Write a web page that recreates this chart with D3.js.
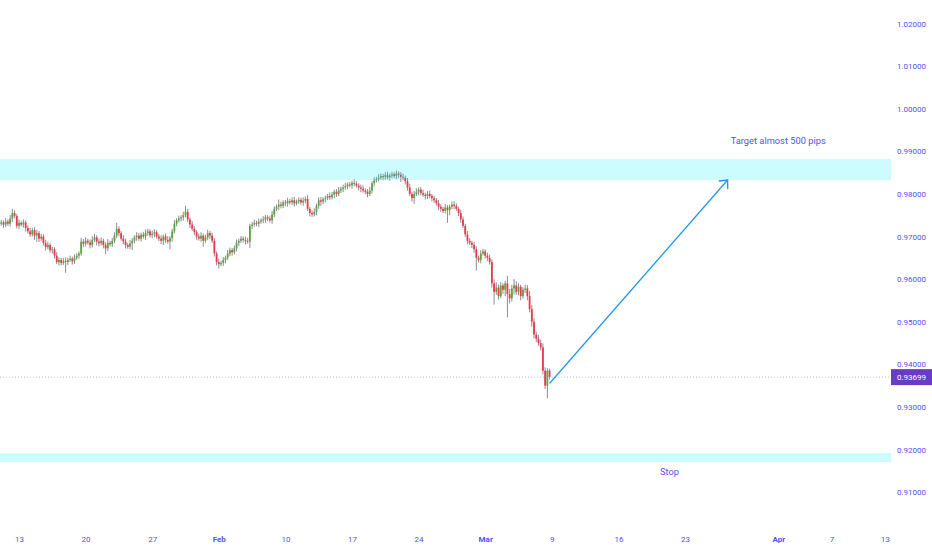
<!DOCTYPE html>
<html><head><meta charset="utf-8">
<script src="https://cdn.jsdelivr.net/npm/d3@7"></script>
<style>
body{margin:0;background:#fff;}
svg{display:block;font-family:Roboto, "Noto Sans", sans-serif;}
</style>
</head><body>
<svg id="chart" width="932" height="550"></svg>
<script>
// ---- data (4H candles, USD/CHF style) ----
const firstOpen = 0.9730;
const closes = [
0.9733,0.9728,0.9735,0.9730,0.9742,0.9755,0.9748,0.9725,0.9732,0.9728,
0.9733,0.9720,0.9712,0.9705,0.9715,0.9702,0.9708,0.9695,0.9700,0.9685,
0.9675,0.9680,0.9668,0.9670,0.9655,0.9640,0.9645,0.9638,0.9642,0.9640,
0.9645,0.9648,0.9642,0.9650,0.9655,0.9660,0.9688,0.9683,0.9690,0.9686,
0.9680,0.9692,0.9698,0.9688,0.9684,0.9690,0.9680,0.9672,0.9685,0.9682,
0.9690,0.9702,0.9718,0.9708,0.9695,0.9688,0.9680,0.9676,0.9684,0.9690,
0.9698,0.9702,0.9695,0.9704,0.9700,0.9708,0.9712,0.9703,0.9706,0.9710,
0.9700,0.9695,0.9690,0.9700,0.9692,0.9688,0.9696,0.9712,0.9730,0.9738,
0.9742,0.9745,0.9750,0.9758,0.9740,0.9728,0.9718,0.9710,0.9700,0.9695,
0.9702,0.9690,0.9698,0.9708,0.9702,0.9690,0.9660,0.9640,0.9635,0.9638,
0.9645,0.9650,0.9660,0.9668,0.9663,0.9672,0.9685,0.9690,0.9695,0.9692,
0.9690,0.9688,0.9725,0.9728,0.9732,0.9730,0.9735,0.9738,0.9740,0.9745,
0.9742,0.9738,0.9752,0.9765,0.9770,0.9775,0.9772,0.9780,0.9778,0.9783,
0.9780,0.9785,0.9778,0.9782,0.9786,0.9780,0.9784,0.9788,0.9765,0.9755,
0.9752,0.9758,0.9772,0.9785,0.9782,0.9788,0.9790,0.9795,0.9792,0.9798,
0.9805,0.9800,0.9808,0.9812,0.9815,0.9818,0.9822,0.9820,0.9826,0.9824,
0.9820,0.9815,0.9812,0.9808,0.9805,0.9800,0.9808,0.9825,0.9832,0.9835,
0.9838,0.9842,0.9840,0.9844,0.9839,0.9843,0.9846,0.9842,0.9848,0.9845,
0.9840,0.9838,0.9830,0.9815,0.9800,0.9790,0.9800,0.9805,0.9810,0.9802,
0.9798,0.9795,0.9800,0.9795,0.9790,0.9785,0.9778,0.9770,0.9765,0.9760,
0.9768,0.9762,0.9770,0.9775,0.9772,0.9765,0.9755,0.9740,0.9725,0.9705,
0.9690,0.9685,0.9680,0.9670,0.9650,0.9645,0.9660,0.9665,0.9655,0.9650,
0.9640,0.9590,0.9570,0.9580,0.9560,0.9585,0.9575,0.9590,0.9565,0.9555,
0.9578,0.9585,0.9570,0.9582,0.9560,0.9575,0.9578,0.9560,0.9530,0.9500,
0.9470,0.9460,0.9450,0.9440,0.9385,0.9350,0.9385,0.93699
];
// upper / lower wick lengths in pips (0.0001)
const upWick = [
6,5,8,5,9,10,6,5,8,5,7,5,6,8,5,7,8,5,6,5,
7,8,5,6,5,8,6,5,7,9,5,7,5,8,6,5,9,6,8,5,
7,9,8,5,7,8,5,6,9,5,7,8,14,6,5,8,7,5,8,6,
5,8,6,5,7,8,6,5,8,7,5,6,8,5,7,9,5,6,8,5,
7,5,8,14,7,5,8,6,5,7,8,5,6,8,5,7,6,5,8,5,
7,5,8,6,5,7,8,5,6,5,8,7,5,6,8,5,7,5,8,6,
5,7,8,6,5,12,7,5,6,8,5,7,8,5,6,5,8,6,9,5,
6,8,5,7,8,5,6,5,8,7,5,6,8,5,7,8,5,6,5,8,
6,5,7,8,5,6,8,5,7,5,8,6,5,7,8,5,6,5,7,5,
6,8,5,7,9,5,7,8,5,6,8,5,7,8,5,6,5,8,6,5,
8,6,5,7,8,6,5,8,7,5,8,6,5,8,7,5,8,6,5,7,
8,6,9,12,7,8,5,6,18,12,8,15,10,8,5,6,9,8,12,9,
8,7,9,8,9,8,6,5
];
const downWick = [
5,8,6,5,7,8,5,6,8,5,7,8,5,6,5,10,14,8,5,6,
8,5,6,8,7,5,8,6,5,25,7,5,8,6,5,7,5,8,6,5,
8,6,5,9,7,5,8,14,6,5,7,5,6,8,5,6,8,5,6,16,
6,8,5,7,5,8,6,5,7,8,5,6,8,10,7,5,18,8,5,6,
5,7,8,5,6,8,5,7,8,5,7,14,5,6,8,5,7,8,10,5,
7,8,5,6,8,5,7,8,5,6,9,5,15,8,5,6,8,5,7,8,
6,5,8,7,5,8,6,5,7,8,5,6,8,5,6,5,8,6,5,8,
6,5,8,7,10,6,8,5,6,5,8,7,5,6,8,5,7,5,8,6,
5,7,8,5,6,8,5,7,8,5,6,5,8,7,5,8,6,5,7,8,
12,6,8,7,5,8,14,5,8,6,5,8,7,5,8,6,5,8,7,5,
6,30,12,6,8,5,7,8,5,6,8,5,7,8,30,6,8,5,7,8,
6,10,30,7,8,5,10,15,55,12,8,14,7,8,10,6,8,10,8,12,
9,8,6,8,9,8,30,5
];
const firstBarDay = -8/6;   // trading-day index of first candle (Jan 13 = day 0)
const barsPerDay = 6;

const priceTicks = [0.91,0.92,0.93,0.94,0.95,0.96,0.97,0.98,0.99,1.00,1.01,1.02];
const timeTickDays = [0,5,10,15,20,25,30,35,40,45,50,57,61,65];
const timeTickLabels = ["13","20","27","Feb","10","17","24","Mar","9","16","23","Apr","7","13"];
const monthLabels = ["Feb","Mar","Apr"];

const lastPrice = 0.93699;
const zones = [ {top:0.98819, bottom:0.98326}, {top:0.91918, bottom:0.91707} ];
const arrowFrom = {day:39.86, price:0.93561};
const arrowTo = {day:53.2, price:0.98326};
const notes = [
  {text:"Target almost 500 pips", day:53.43, price:0.99242},
  {text:"Stop", day:48.12, price:0.91472}
];

// ---- drawing ----
const W = 932, H = 550, plotRight = 891;
const svg = d3.select("#chart");
const x = d3.scaleLinear().domain([0, 65]).range([19, 884.8]);
const y = d3.scaleLinear().domain([0.91, 1.02]).range([492.1, 23.5]);
const txtColor = "#5252ee";

const candles = closes.map((c, i) => {
  const o = i === 0 ? firstOpen : closes[i-1];
  const h = Math.max(o, c) + (upWick[i] || 0) / 10000;
  const l = Math.min(o, c) - (downWick[i] || 0) / 10000;
  return {day: firstBarDay + i / barsPerDay, o, h, l, c};
});

svg.append("defs").append("clipPath").attr("id","plotclip")
  .append("rect").attr("x",0).attr("y",0).attr("width",plotRight).attr("height",H);

const plot = svg.append("g").attr("clip-path","url(#plotclip)");

// candles
const cg = plot.append("g");
cg.selectAll("line.wick").data(candles).join("line")
  .attr("class","wick")
  .attr("x1", d => x(d.day)).attr("x2", d => x(d.day))
  .attr("y1", d => y(d.h)).attr("y2", d => y(d.l))
  .attr("stroke", "#8c8c8c").attr("stroke-width", 1);
cg.selectAll("rect.body").data(candles).join("rect")
  .attr("class","body")
  .attr("x", d => x(d.day) - 0.9)
  .attr("width", 1.8)
  .attr("y", d => y(Math.max(d.o, d.c)))
  .attr("height", d => Math.max(0.8, Math.abs(y(d.o) - y(d.c))))
  .attr("fill", d => d.c >= d.o ? "#5aa53f" : "#f2364a");

// zones (semi transparent, above candles)
plot.selectAll("rect.zone").data(zones).join("rect")
  .attr("class","zone")
  .attr("x", 0).attr("width", plotRight)
  .attr("y", d => y(d.top))
  .attr("height", d => y(d.bottom) - y(d.top))
  .attr("fill", "#00f0f5").attr("fill-opacity", 0.2);

// last price line
plot.append("line")
  .attr("x1", 0).attr("x2", plotRight)
  .attr("y1", y(lastPrice)).attr("y2", y(lastPrice))
  .attr("stroke", "#b3aedb").attr("stroke-width", 0.8)
  .attr("stroke-dasharray", "1,2");

// arrow
const ax1 = x(arrowFrom.day), ay1 = y(arrowFrom.price);
const ax2 = x(arrowTo.day), ay2 = y(arrowTo.price);
const ang = Math.atan2(ay1 - ay2, ax1 - ax2);
const headLen = 8.5, headAng = 42 * Math.PI / 180;
const arrowG = plot.append("g").attr("stroke", "#2196f3").attr("stroke-width", 1.3)
  .attr("fill", "none").attr("stroke-linecap", "round");
arrowG.append("line").attr("x1", ax1).attr("y1", ay1).attr("x2", ax2).attr("y2", ay2);
arrowG.append("path").attr("d",
  "M" + (ax2 + headLen * Math.cos(ang + headAng)) + "," + (ay2 + headLen * Math.sin(ang + headAng)) +
  "L" + ax2 + "," + ay2 +
  "L" + (ax2 + headLen * Math.cos(ang - headAng)) + "," + (ay2 + headLen * Math.sin(ang - headAng)));

// annotation texts
plot.selectAll("text.note").data(notes).join("text")
  .attr("class","note")
  .attr("x", d => x(d.day)).attr("y", d => y(d.price))
  .attr("dy", "0.35em")
  .attr("fill", txtColor).attr("font-size", "9.3px")
  .text(d => d.text);

// right price axis
const yAxis = d3.axisRight(y).tickValues(priceTicks)
  .tickFormat(d3.format(".5f")).tickSize(0).tickPadding(6);
const yg = svg.append("g").attr("transform", `translate(${plotRight},0)`).call(yAxis);
yg.select(".domain").remove();
yg.selectAll("text").attr("fill", txtColor).attr("font-size", "8px")
  .attr("font-family", "Roboto, sans-serif");

// bottom time axis
const xAxis = d3.axisBottom(x).tickValues(timeTickDays)
  .tickFormat((d, i) => timeTickLabels[i]).tickSize(0).tickPadding(6);
const xg = svg.append("g").attr("transform", "translate(0,530)").call(xAxis);
xg.select(".domain").remove();
xg.selectAll("text").attr("fill", txtColor).attr("font-size", "8px")
  .attr("font-family", "Roboto, sans-serif")
  .attr("font-weight", (d, i) => monthLabels.includes(timeTickLabels[i]) ? "bold" : "normal");

// last price label
const lp = svg.append("g").attr("transform", `translate(${plotRight},${y(lastPrice)})`);
lp.append("rect").attr("x", 0).attr("y", -8).attr("width", W - plotRight).attr("height", 16)
  .attr("fill", "#6a3cc6");
lp.append("text").attr("x", 6).attr("dy", "0.35em").attr("fill", "#fff")
  .attr("font-size", "8px").text(d3.format(".5f")(lastPrice));
</script>
</body></html>
